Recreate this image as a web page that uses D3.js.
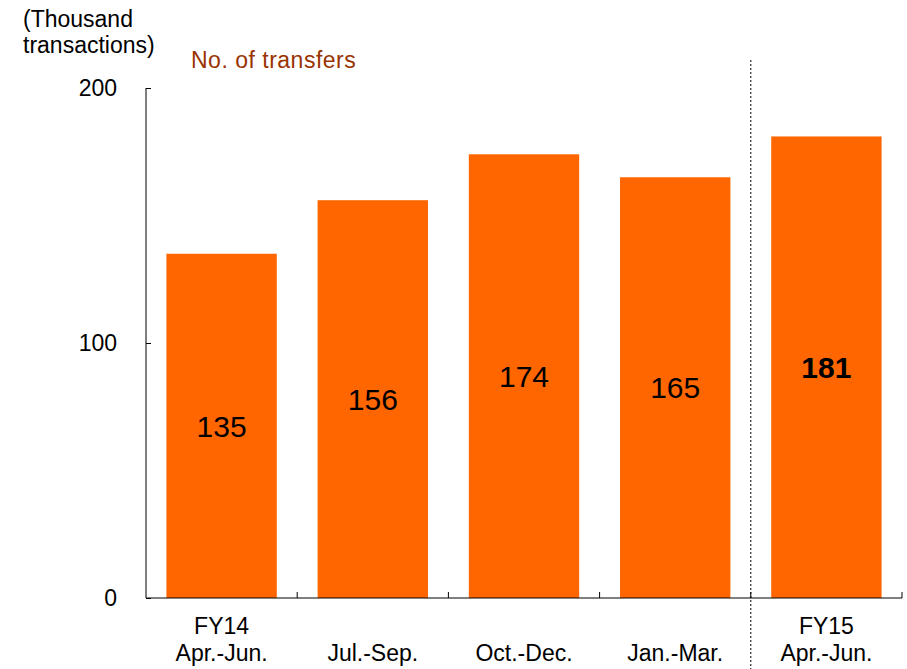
<!DOCTYPE html>
<html>

<head>
    <script src="https://d3js.org/d3.v7.min.js"></script>
    <style>
        body { margin: 0; background: #fff; }
        text { font-family: "Liberation Sans", Arial, sans-serif; }
    </style>
</head>

<body>
    <svg id="chart" width="907" height="669"></svg>

    <script>
        const periods = ["FY14 Apr.-Jun.", "Jul.-Sep.", "Oct.-Dec.", "Jan.-Mar.", "FY15 Apr.-Jun."];
        const periodLines = [["FY14", "Apr.-Jun."], ["Jul.-Sep."], ["Oct.-Dec."], ["Jan.-Mar."], ["FY15", "Apr.-Jun."]];
        const transfers = [135, 156, 174, 165, 181];
        const yTicks = [0, 100, 200];

        const svg = d3.select("#chart");
        const margin = { top: 88, right: 5, bottom: 71, left: 146 };
        const chartWidth = 902 - margin.left;
        const chartHeight = 598 - margin.top;

        const g = svg.append("g")
            .attr("transform", `translate(${margin.left},${margin.top})`);

        const x = d3.scaleBand().domain(periods).range([0, chartWidth])
            .paddingInner(0.27).paddingOuter(0.135);
        const y = d3.scaleLinear().domain([0, 200]).range([chartHeight, 0]);

        // bars
        g.selectAll("rect.bar").data(transfers)
            .join("rect")
            .attr("class", "bar")
            .attr("x", (d, i) => x(periods[i]))
            .attr("y", d => y(d))
            .attr("width", x.bandwidth())
            .attr("height", d => chartHeight - y(d))
            .attr("fill", "#ff6600");

        // value labels
        g.selectAll("text.value").data(transfers)
            .join("text")
            .attr("class", "value")
            .attr("x", (d, i) => x(periods[i]) + x.bandwidth() / 2)
            .attr("y", d => (y(d) + chartHeight) / 2)
            .attr("dy", "0.36em")
            .attr("text-anchor", "middle")
            .attr("font-size", 30)
            .attr("font-weight", (d, i) => i === transfers.length - 1 ? "bold" : "normal")
            .attr("fill", "#000")
            .text(d => d);

        // y axis
        const leftAxis = d3.axisLeft(y).tickValues(yTicks).tickSize(-5).tickPadding(29);
        const yAxisG = g.append("g").attr("class", "y axis").call(leftAxis);
        yAxisG.select(".domain").attr("stroke", "#000").attr("d", `M0,0V${chartHeight}`);
        yAxisG.selectAll(".tick line").attr("stroke", "#000");
        yAxisG.selectAll(".tick text")
            .attr("font-size", 23)
            .attr("font-family", "Liberation Sans, Arial, sans-serif")
            .attr("fill", "#000");

        // x axis
        g.append("line")
            .attr("x1", 0).attr("x2", chartWidth)
            .attr("y1", chartHeight).attr("y2", chartHeight)
            .attr("stroke", "#000");

        const step = x.step();
        const bounds = d3.range(periods.length + 1).map(i => x(periods[0]) - x.paddingOuter() * step + i * step);
        g.selectAll("line.xtick").data(bounds.slice(1))
            .join("line")
            .attr("class", "xtick")
            .attr("x1", d => d).attr("x2", d => d)
            .attr("y1", chartHeight).attr("y2", chartHeight - 6)
            .attr("stroke", "#000");

        // category labels
        const catG = g.selectAll("text.cat").data(periodLines)
            .join("text")
            .attr("class", "cat")
            .attr("text-anchor", "middle")
            .attr("font-size", 23)
            .attr("fill", "#000")
            .attr("x", (d, i) => x(periods[i]) + x.bandwidth() / 2);
        catG.selectAll("tspan").data(d => d)
            .join("tspan")
            .attr("x", function () { return d3.select(this.parentNode).attr("x"); })
            .attr("y", (d, i, nodes) => chartHeight + (nodes.length === 2 && i === 0 ? 36 : 63))
            .text(d => d);

        // dotted separator before FY15
        g.append("line")
            .attr("x1", bounds[4]).attr("x2", bounds[4])
            .attr("y1", 60 - margin.top).attr("y2", 669 - margin.top)
            .attr("stroke", "#000")
            .attr("stroke-width", 1)
            .attr("stroke-dasharray", "2,2");

        // axis title
        svg.append("text")
            .attr("x", 23).attr("y", 27)
            .attr("font-size", 23)
            .attr("fill", "#000")
            .text("(Thousand");
        svg.append("text")
            .attr("x", 23).attr("y", 53)
            .attr("font-size", 23)
            .attr("fill", "#000")
            .text("transactions)");

        // series label
        svg.append("text")
            .attr("x", 191).attr("y", 68)
            .attr("font-size", 23)
            .attr("letter-spacing", 0.5)
            .attr("fill", "#993300")
            .text("No. of transfers");
    </script>
</body>

</html>
